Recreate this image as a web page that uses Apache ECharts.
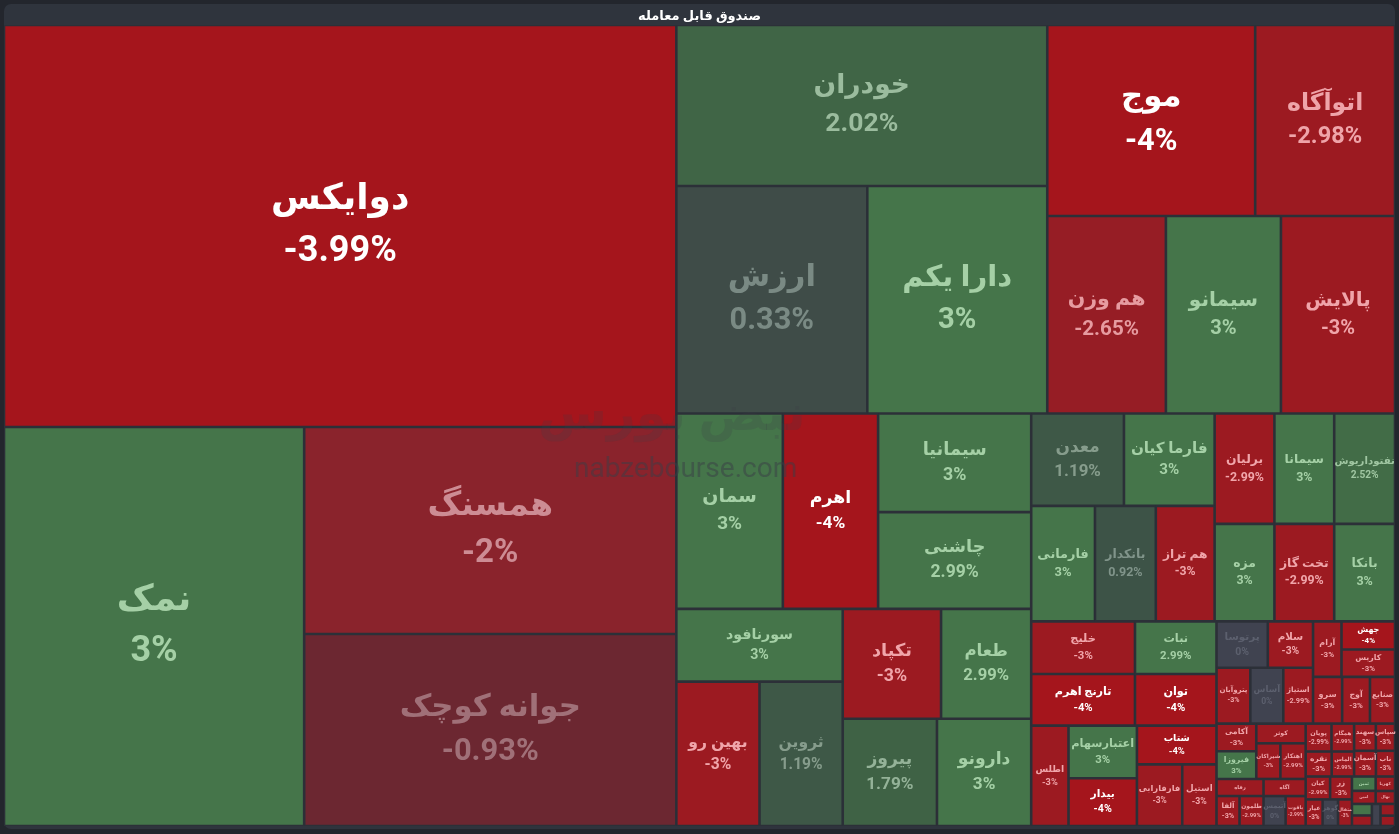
<!DOCTYPE html>
<html>
<head>
<meta charset="utf-8">
<script src="https://cdn.jsdelivr.net/npm/echarts@6/dist/echarts.min.js"></script>
<style>
html,body{margin:0;padding:0;background:#23262d;}
#chart{width:1399px;height:834px;}
</style>
</head>
<body>
<div id="chart"></div>
<script>
// ETF names, traded value (box size) and daily change in %
var names = ['دوایکس','نمک','همسنگ','جوانه کوچک','خودران','ارزش','دارا یکم','موج','اتوآگاه','هم وزن',
	'سیمانو','پالایش','سمان','اهرم','سیمانیا','چاشنی','سورنافود','بهین رو','ثروین','تکپاد',
	'طعام','پیروز','دارونو','معدن','فارما کیان','فارمانی','بانکدار','هم تراز','برلیان','سیمانا',
	'نفتوداریوش','مزه','تخت گاز','بانکا','خلیج','تارنج اهرم','نبات','توان','اطلس','اعتبارسهام',
	'بیدار','شتاب','فارفارابی','استیل','پرتوسا','سلام','پتروآبان','آساس','استیاژ','آرام',
	'جهش','کاریس','سرو','آوج','صنایع','آکامی','فیروزا','کوثر','شیراکان','اهتکار',
	'رفاه','آلفا','طلمون','آگاه','آتیمس','یاقوت','پویان','همگام','نقره','الماس',
	'سهند','سپاس','آسمان','ناب','کیان','زر','عیار','گوهر','مثقال','ثمین',
	'امین','کهربا','نهال','آفاق','زرفام','لیان','کارا','مانی'];
var values = [270.1,119.7,77.0,71.4,59.7,43.4,40.9,39.7,26.7,23.4,
	22.7,22.5,20.8,18.6,15.1,14.8,12.1,12.0,12.0,10.8,
	9.9,10.1,10.1,8.56,8.37,7.36,7.02,6.79,6.6,6.6,
	6.71,5.82,5.82,5.92,5.46,5.36,4.29,4.21,3.74,3.6,
	3.26,3.08,2.79,2.11,2.38,2.1,1.89,1.84,1.66,1.58,
	1.51,1.46,1.36,1.3,1.17,1.1,1.1,0.97,0.86,0.9,
	0.8,0.69,0.72,0.72,0.66,0.6,0.72,0.63,0.65,0.56,
	0.59,0.52,0.56,0.49,0.56,0.5,0.45,0.41,0.37,0.34,
	0.31,0.28,0.25,0.23,0.21,0.19,0.17,0.15];
var changes = [-3.99,3,-2,-0.93,2.02,0.33,3,-4,-2.98,-2.65,
	3,-3,3,-4,3,2.99,3,-3,1.19,-3,
	2.99,1.79,3,1.19,3,3,0.92,-3,-2.99,3,
	2.52,3,-2.99,3,-3,-4,2.99,-4,-3,3,
	-4,-4,-3,-3,0,-3,-3,0,-2.99,-3,
	-4,-3,-3,-3,-3,-3,3,-2.99,-3,-2.99,
	-2.99,-3,-2.99,-3,0,-2.99,-2.99,-2.99,-3,-2.99,
	-3,-3,-3,-3,-2.99,-3,-3,0,-3,3,
	-3,-3,-3,3,-3,0,-3,-3];

var BORDER = '#2c3038';
var FONT = 'Roboto, "DejaVu Sans", sans-serif';

// colour stops (change -> rgb)
var cellNeg = [[0,[64,67,80]],[-0.93,[108,39,49]],[-2,[138,35,44]],[-2.65,[150,29,37]],[-3,[156,26,33]],[-4,[165,21,28]]];
var cellPos = [[0,[64,67,80]],[0.33,[63,76,72]],[0.92,[61,83,71]],[1.19,[62,88,71]],[1.79,[63,98,69]],[2.02,[64,101,70]],[2.52,[66,108,71]],[3,[69,117,74]]];
var textNeg = [[0,[92,96,110]],[-0.93,[160,112,120]],[-2,[205,140,148]],[-2.65,[230,155,160]],[-3,[240,165,170]],[-3.5,[255,255,255]],[-4,[255,255,255]]];
var textPos = [[0,[92,96,110]],[0.33,[122,138,132]],[0.92,[128,148,138]],[1.19,[134,156,140]],[1.79,[148,178,152]],[2.02,[155,188,158]],[3,[165,208,166]]];

function pick(stops, c){
	var last = stops[stops.length-1];
	if(Math.abs(c) >= Math.abs(last[0])) return last[1];
	for(var k=1;k<stops.length;k++){
		var a = stops[k-1], b = stops[k];
		if(Math.abs(c) <= Math.abs(b[0])){
			var t = (c-a[0])/(b[0]-a[0]);
			return [0,1,2].map(function(q){ return Math.round(a[1][q]+(b[1][q]-a[1][q])*t); });
		}
	}
	return last[1];
}
function rgb(v){ return 'rgb('+v[0]+','+v[1]+','+v[2]+')'; }
function cellColor(c){ return rgb(pick(c<0?cellNeg:cellPos, c)); }
function textColor(c){ return rgb(pick(c<0?textNeg:textPos, c)); }
function fmt(c){ return (Math.round(c*100)/100)+'%'; }

var leaves = names.map(function(n, i){
	return {
		name: n,
		value: values[i],
		itemStyle: {color: cellColor(changes[i]), borderWidth: 1.3, borderColor: BORDER},
		label: {show: false}
	};
});

// binary split of the ordered list (the layout the original uses)
function binaryTree(list){
	var sums = [0];
	list.forEach(function(d, k){ sums.push(sums[k] + d.value); });
	function part(i, j){
		if(i >= j-1) return list[i];
		var value = sums[j]-sums[i];
		var target = value/2 + sums[i];
		var k = i+1, hi = j-1;
		while(k < hi){
			var mid = (k+hi) >>> 1;
			if(sums[mid] < target) k = mid+1; else hi = mid;
		}
		if((target-sums[k-1]) < (sums[k]-target) && i+1 < k) --k;
		return {
			name: 'g'+i+'_'+j,
			children: [part(i, k), part(k, j)],
			itemStyle: {borderWidth: 0, gapWidth: 0, borderColor: BORDER},
			label: {show: false}
		};
	}
	return part(0, list.length);
}

var option = {
	backgroundColor: '#23262d',
	animation: false,
	title: {
		text: 'صندوق قابل معامله',
		left: 'center',
		top: 5,
		textStyle: {color: '#ffffff', fontSize: 13, fontWeight: 'bold', fontFamily: FONT}
	},
	graphic: [
		{type: 'rect', z: -10, silent: true, shape: {x: 4, y: 4, width: 1391, height: 825, r: 7}, style: {fill: '#2f343d'}},
		{type: 'text', z: 100, silent: true, left: 538, top: 392,
			style: {text: 'نبض بورس', fontSize: 50, fontWeight: 'bold', fontFamily: FONT, fill: 'rgba(58,62,70,0.2)'}},
		{type: 'text', z: 100, silent: true, left: 574, top: 456,
			style: {text: 'nabzebourse.com', fontSize: 28, fontFamily: FONT, fill: 'rgba(58,62,70,0.5)'}}
	],
	series: [{
		type: 'treemap',
		left: 4, top: 25, width: 1391, height: 801,
		roam: false,
		nodeClick: false,
		sort: false,
		squareRatio: 0.0001,
		breadcrumb: {show: false},
		itemStyle: {borderWidth: 0, gapWidth: 0, borderColor: BORDER},
		upperLabel: {show: false},
		label: {show: true, position: 'inside', align: 'center', verticalAlign: 'middle',
			padding: 0, overflow: 'none', fontWeight: 'bold', fontFamily: FONT},
		emphasis: {disabled: true},
		data: [binaryTree(leaves)]
	}]
};

var chart = echarts.init(document.getElementById('chart'));
chart.setOption(option);

// second pass: size the labels from the boxes the library laid out
var sizes = {};
try {
	var tree = chart.getModel().getSeriesByIndex(0).getData().tree;
	tree.root.eachNode(function(node){
		if(!node.children || !node.children.length){
			var l = node.getLayout();
			if(l) sizes[node.name] = [l.width, l.height];
		}
	});
} catch(e) {}

leaves.forEach(function(leaf, i){
	var c = changes[i];
	var txt = fmt(c);
	var wh = sizes[leaf.name];
	var f;
	if(wh){
		var w = wh[0], h = wh[1];
		f = 0.14*Math.min(w, h) + 4;
		f = Math.min(f, 36, (w*0.92)/Math.max(leaf.name.length*0.55, txt.length*0.62), (h-2)/2.8);
	} else {
		f = Math.max(5, Math.min(36, 9*Math.pow(leaf.value, 0.25)));
	}
	leaf.label = {
		show: f >= 3.8,
		formatter: leaf.name + '\n' + txt,
		fontSize: f,
		lineHeight: f*1.42,
		color: textColor(c)
	};
});
option.series[0].data = [binaryTree(leaves)];
chart.setOption(option);
</script>
</body>
</html>
